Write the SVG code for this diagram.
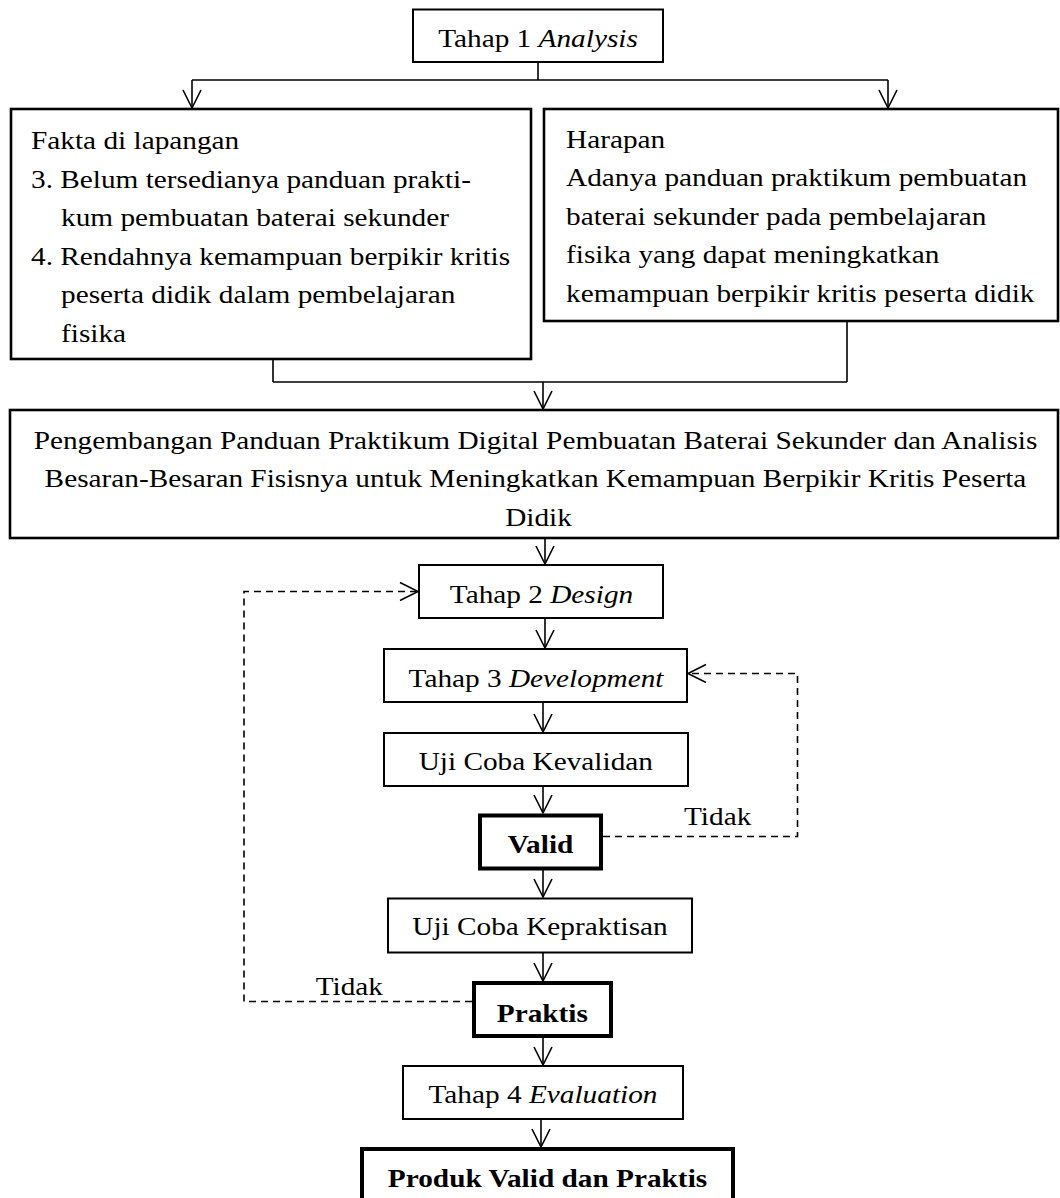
<svg xmlns="http://www.w3.org/2000/svg" width="1060" height="1198" viewBox="0 0 1060 1198">
<style>
.t{font-family:"Liberation Serif","Times New Roman",serif;font-size:26px;fill:#000}
.c{text-anchor:middle}
.b{font-weight:bold}
.i{font-style:italic}
.box{fill:#fff;stroke:#000;stroke-width:2}
.big{fill:#fff;stroke:#000;stroke-width:2.6}
.thick{fill:#fff;stroke:#000;stroke-width:4}
.ln{fill:none;stroke:#000;stroke-width:1.6}
.ar{fill:none;stroke:#000;stroke-width:1.6;marker-end:url(#ah)}
.da{fill:none;stroke:#000;stroke-width:1.6;stroke-dasharray:7 5;marker-end:url(#ah)}
</style>
<defs>
<marker id="ah" markerUnits="userSpaceOnUse" viewBox="-20 -12 22 24" refX="0" refY="0" markerWidth="22" markerHeight="24" orient="auto" overflow="visible">
<path d="M-18,-9 L0,0 L-18,9" fill="none" stroke="#000" stroke-width="1.6" stroke-dasharray="none"/>
</marker>
</defs>
<rect width="1060" height="1198" fill="#fff"/>

<g id="connectors">
<path class="ln" d="M538,62 V80 M192,80 H888 M273,359 V382 M847,321 V382 M273,382 H847"/>
<path class="ar" d="M192,80 V108"/>
<path class="ar" d="M888,80 V108"/>
<path class="ar" d="M543,382 V409"/>
<path class="ar" d="M545,538 V564"/>
<path class="ar" d="M545,618 V648"/>
<path class="ar" d="M543,702 V732"/>
<path class="ar" d="M543,786 V813"/>
<path class="ar" d="M543,869 V897"/>
<path class="ar" d="M543,952 V981"/>
<path class="ar" d="M543,1037 V1065"/>
<path class="ar" d="M541,1119 V1147"/>
<path class="da" d="M472,1001.5 H244 V591.5 H418"/>
<path class="da" d="M603,836.5 H797.5 V673.5 H688"/>
<text class="t" transform="translate(315.7 995) scale(1.127 1)">Tidak</text>
<text class="t" transform="translate(684 825) scale(1.127 1)">Tidak</text>
</g>

<g id="n-analysis">
<rect class="box" x="413" y="9.5" width="250" height="52.5"/>
<text class="t c" transform="translate(538 47) scale(1.127 1)">Tahap 1 <tspan class="i">Analysis</tspan></text>
</g>

<g id="n-fakta">
<rect class="big" x="11" y="109" width="520" height="250"/>
<text class="t" transform="translate(31 149) scale(1.127 1)">Fakta di lapangan</text>
<text class="t" transform="translate(31 187.5) scale(1.127 1)">3. Belum tersedianya panduan prakti-</text>
<text class="t" transform="translate(61 226) scale(1.127 1)">kum pembuatan baterai sekunder</text>
<text class="t" transform="translate(31 264.5) scale(1.127 1)">4. Rendahnya kemampuan berpikir kritis</text>
<text class="t" transform="translate(61 303) scale(1.127 1)">peserta didik dalam pembelajaran</text>
<text class="t" transform="translate(61 341.5) scale(1.127 1)">fisika</text>
</g>

<g id="n-harapan">
<rect class="big" x="544" y="109" width="514" height="212"/>
<text class="t" transform="translate(566 147.5) scale(1.127 1)">Harapan</text>
<text class="t" transform="translate(566 186) scale(1.127 1)">Adanya panduan praktikum pembuatan</text>
<text class="t" transform="translate(566 224.5) scale(1.127 1)">baterai sekunder pada pembelajaran</text>
<text class="t" transform="translate(566 263) scale(1.127 1)">fisika yang dapat meningkatkan</text>
<text class="t" transform="translate(566 301.5) scale(1.127 1)">kemampuan berpikir kritis peserta didik</text>
</g>

<g id="n-judul">
<rect class="big" x="10" y="410" width="1048" height="128"/>
<text class="t c" transform="translate(535.5 449) scale(1.127 1)">Pengembangan Panduan Praktikum Digital Pembuatan Baterai Sekunder dan Analisis</text>
<text class="t c" transform="translate(535.5 487.3) scale(1.127 1)">Besaran-Besaran Fisisnya untuk Meningkatkan Kemampuan Berpikir Kritis Peserta</text>
<text class="t c" transform="translate(538.5 525.6) scale(1.127 1)">Didik</text>
</g>

<g id="n-design">
<rect class="box" x="419" y="565" width="244" height="53"/>
<text class="t c" transform="translate(541.5 603) scale(1.127 1)">Tahap 2 <tspan class="i">Design</tspan></text>
</g>

<g id="n-development">
<rect class="box" x="384" y="649" width="303" height="53"/>
<text class="t c" transform="translate(536 687) scale(1.127 1)">Tahap 3 <tspan class="i">Development</tspan></text>
</g>

<g id="n-kevalidan">
<rect class="box" x="384" y="733" width="304" height="53"/>
<text class="t c" transform="translate(535.8 770) scale(1.127 1)">Uji Coba Kevalidan</text>
</g>

<g id="n-valid">
<rect class="thick" x="480" y="815.5" width="121" height="53"/>
<text class="t c b" transform="translate(540.5 853) scale(1.127 1)">Valid</text>
</g>

<g id="n-kepraktisan">
<rect class="box" x="388" y="898.5" width="304" height="54"/>
<text class="t c" transform="translate(540 935) scale(1.127 1)">Uji Coba Kepraktisan</text>
</g>

<g id="n-praktis">
<rect class="thick" x="474" y="983" width="137" height="53"/>
<text class="t c b" transform="translate(542.3 1021.7) scale(1.127 1)">Praktis</text>
</g>

<g id="n-evaluation">
<rect class="box" x="403" y="1066" width="280" height="53"/>
<text class="t c" transform="translate(543 1102.7) scale(1.127 1)">Tahap 4 <tspan class="i">Evaluation</tspan></text>
</g>

<g id="n-produk">
<rect class="thick" x="362" y="1149" width="371" height="60"/>
<text class="t c b" transform="translate(547.5 1186.7) scale(1.127 1)">Produk Valid dan Praktis</text>
</g>
</svg>
